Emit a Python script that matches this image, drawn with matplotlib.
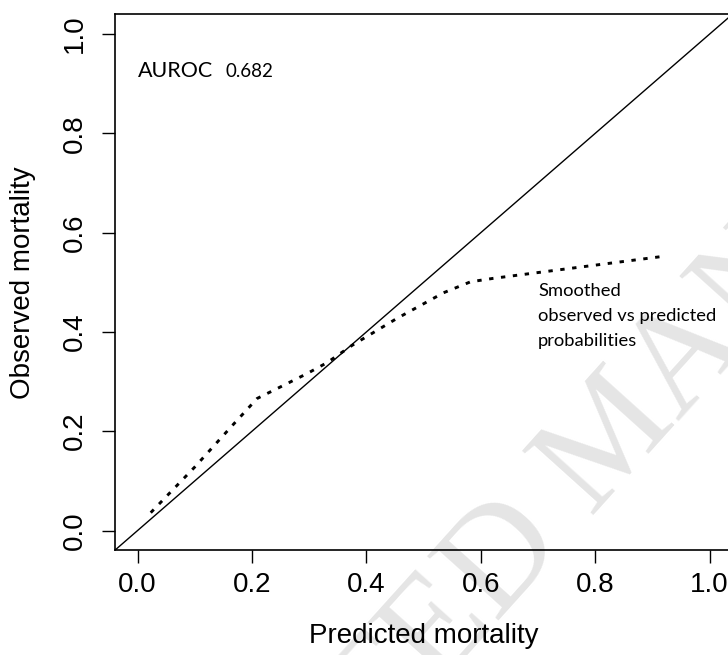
import matplotlib
matplotlib.use("Agg")
import matplotlib.pyplot as plt
from matplotlib.transforms import IdentityTransform

# ---- data ----
pred = [0.023, 0.100, 0.162, 0.209, 0.244, 0.296, 0.331, 0.375, 0.453, 0.535, 0.582, 0.622, 0.917]
obs  = [0.036, 0.128, 0.207, 0.266, 0.286, 0.316, 0.338, 0.373, 0.427, 0.479, 0.501, 0.508, 0.552]
ticks = [0.0, 0.2, 0.4, 0.6, 0.8, 1.0]
tick_labels = ["0.0", "0.2", "0.4", "0.6", "0.8", "1.0"]
auroc_label = "AUROC"
auroc_value = "0.682"
note_lines = ["Smoothed", "observed vs predicted", "probabilities"]
xlabel = "Predicted mortality"
ylabel = "Observed mortality"
watermark = "ACCEPTED MANUSCRIPT"

W, H = 728, 655
fig = plt.figure(figsize=(W / 100, H / 100), dpi=100)

# watermark (behind everything)
fig.text(62, -450, watermark, transform=IdentityTransform(),
         fontsize=105, family="Liberation Serif", color="#e5e5e5",
         rotation=48, rotation_mode="anchor", ha="left", va="baseline", zorder=-5)

ax = fig.add_axes([114.7 / W, (H - 550.4) / H, 617.8 / W, 536.2 / H])
ax.set_zorder(2)
ax.patch.set_alpha(0)
ax.set_xlim(-0.04, 1.04)
ax.set_ylim(-0.04, 1.04)

ax.axline((0, 0), slope=1, color="black", lw=1.0)
ax.plot(pred, obs, color="black", lw=2.1, linestyle=(0, (1.5, 2.6)))

ax.set_xticks(ticks)
ax.set_xticklabels(tick_labels)
ax.set_yticks(ticks)
ax.set_yticklabels(tick_labels, rotation=90, va="center")

for lab in ax.get_xticklabels() + ax.get_yticklabels():
    lab.set_family("Liberation Sans")
    lab.set_fontsize(20)
ax.tick_params(axis="both", direction="out", length=9.4, width=1.0, color="black")
ax.tick_params(axis="x", pad=6)
ax.tick_params(axis="y", pad=10)

for s in ax.spines.values():
    s.set_linewidth(1.2)

ax.set_xlabel(xlabel, fontsize=20, family="Liberation Sans")
ax.xaxis.set_label_coords(0.5, -(643 - 550.4) / 536.2)
ax.xaxis.label.set_va("baseline")
ax.set_ylabel(ylabel, fontsize=20, family="Liberation Sans")
ax.yaxis.set_label_coords(-(114.7 - 36) / 617.8, 0.5)

ax.text(0.001, 0.914, auroc_label, fontsize=15.5, family="Lato", va="baseline", ha="left")
ax.text(0.1545, 0.914, auroc_value, fontsize=13.5, family="Lato", va="baseline", ha="left")

y0 = (531 - 296.7) / 496.5
dy = 25.0 / 496.5
for i, line in enumerate(note_lines):
    ax.text(0.70, y0 - i * dy, line, fontsize=13.2, family="Lato", va="baseline", ha="left")

fig.savefig("out.png", dpi=100)
